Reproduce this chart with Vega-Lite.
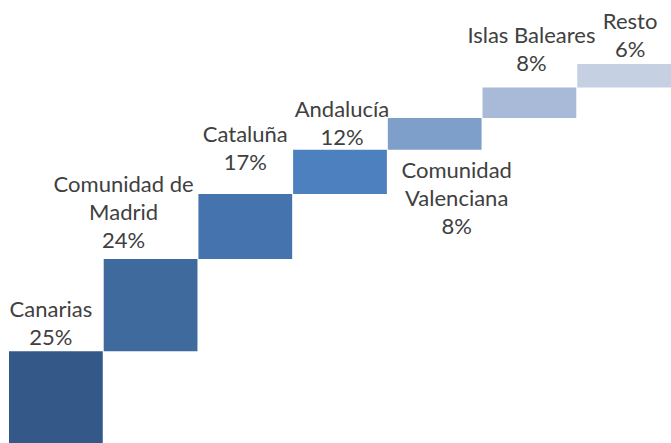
{
  "$schema": "https://vega.github.io/schema/vega-lite/v6.json",
  "width": 662,
  "height": 381,
  "autosize": "none",
  "padding": {"left": 9, "top": 64, "right": 0, "bottom": 0},
  "background": "white",
  "config": {"view": {"stroke": null}, "text": {"font": "Lato", "fontSize": 22, "color": "#404040", "lineBreak": "\n", "lineHeight": 28}},
  "data": {"values": [
    {"region": "Canarias", "share": 24.6, "start": 0, "end": 24.6, "label": "Canarias\n25%"},
    {"region": "Comunidad de Madrid", "share": 24.2, "start": 24.6, "end": 48.8, "label": "Comunidad de\nMadrid\n24%"},
    {"region": "Cataluña", "share": 17.1, "start": 48.8, "end": 65.9, "label": "Cataluña\n17%"},
    {"region": "Andalucía", "share": 11.6, "start": 65.9, "end": 77.5, "label": "Andalucía\n12%"},
    {"region": "Comunidad Valenciana", "share": 8.3, "start": 77.5, "end": 85.8, "label": "Comunidad\nValenciana\n8%"},
    {"region": "Islas Baleares", "share": 8.0, "start": 85.8, "end": 93.8, "label": "Islas Baleares\n8%"},
    {"region": "Resto", "share": 6.2, "start": 93.8, "end": 100, "label": "Resto\n6%"}
  ]},
  "encoding": {
    "x": {"field": "region", "type": "nominal", "sort": null, "axis": null,
          "scale": {"paddingInner": 0.01, "paddingOuter": 0}}
  },
  "layer": [
    {
      "mark": {"type": "bar"},
      "encoding": {
        "y": {"field": "start", "type": "quantitative", "axis": null, "scale": {"domain": [0, 100], "nice": false, "zero": true}},
        "y2": {"field": "end"},
        "color": {"field": "region", "type": "nominal", "legend": null,
          "scale": {"domain": ["Canarias", "Comunidad de Madrid", "Cataluña", "Andalucía", "Comunidad Valenciana", "Islas Baleares", "Resto"],
                    "range": ["#345887", "#3E6A9E", "#4573AE", "#4D80BE", "#7F9FCB", "#A9BAD8", "#C5D0E3"]}}
      }
    },
    {
      "transform": [{"filter": "datum.region === 'Canarias'"}],
      "mark": {"type": "text", "baseline": "alphabetic", "dy": -34, "dx": -5},
      "encoding": {"y": {"field": "end", "type": "quantitative"}, "text": {"field": "label"}}
    },
    {
      "transform": [{"filter": "datum.region === 'Comunidad de Madrid'"}],
      "mark": {"type": "text", "baseline": "alphabetic", "dy": -67, "dx": -27},
      "encoding": {"y": {"field": "end", "type": "quantitative"}, "text": {"field": "label"}}
    },
    {
      "transform": [{"filter": "datum.region === 'Cataluña'"}],
      "mark": {"type": "text", "baseline": "alphabetic", "dy": -52, "dx": 0},
      "encoding": {"y": {"field": "end", "type": "quantitative"}, "text": {"field": "label"}}
    },
    {
      "transform": [{"filter": "datum.region === 'Andalucía'"}],
      "mark": {"type": "text", "baseline": "alphabetic", "dy": -33, "dx": 2},
      "encoding": {"y": {"field": "end", "type": "quantitative"}, "text": {"field": "label"}}
    },
    {
      "transform": [{"filter": "datum.region === 'Comunidad Valenciana'"}],
      "mark": {"type": "text", "baseline": "alphabetic", "dy": 28, "dx": 22},
      "encoding": {"y": {"field": "start", "type": "quantitative"}, "text": {"field": "label"}}
    },
    {
      "transform": [{"filter": "datum.region === 'Islas Baleares'"}],
      "mark": {"type": "text", "baseline": "alphabetic", "dy": -45, "dx": 2},
      "encoding": {"y": {"field": "end", "type": "quantitative"}, "text": {"field": "label"}}
    },
    {
      "transform": [{"filter": "datum.region === 'Resto'"}],
      "mark": {"type": "text", "baseline": "alphabetic", "dy": -35, "dx": 6},
      "encoding": {"y": {"field": "end", "type": "quantitative"}, "text": {"field": "label"}}
    }
  ]
}
